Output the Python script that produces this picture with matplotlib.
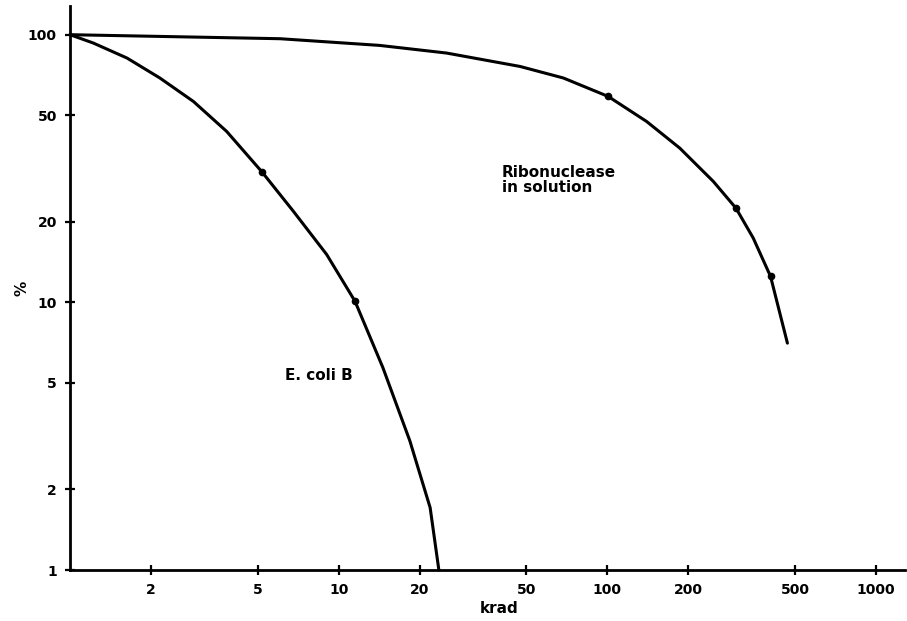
import matplotlib
matplotlib.use("Agg")
import matplotlib.pyplot as plt
from matplotlib.ticker import FixedLocator, FixedFormatter, NullLocator

# curve traces (dose in krad, survival in %)
ecoli_dose = [1.0, 1.22, 1.63, 2.16, 2.88, 3.83, 5.17, 6.78, 9.02, 11.5, 14.6, 18.4, 21.9, 23.6]
ecoli_surv = [100, 93.1, 81.8, 68.9, 56.3, 43.5, 30.8, 21.9, 15.1, 10.1, 5.71, 3.04, 1.71, 1.0]
ecoli_pts_dose = [5.17, 11.5]
ecoli_pts_surv = [30.8, 10.1]

rnase_dose = [1.0, 6.05, 14.2, 25.2, 47.3, 68.6, 100.7, 140, 186, 248, 301, 349, 405, 468]
rnase_surv = [100, 96.6, 91.2, 85.4, 76.1, 68.9, 58.8, 47.4, 37.7, 28.3, 22.5, 17.4, 12.5, 7.04]
rnase_pts_dose = [100.7, 301, 405]
rnase_pts_surv = [58.8, 22.5, 12.5]

xticks = [2, 5, 10, 20, 50, 100, 200, 500, 1000]
yticks = [1, 2, 5, 10, 20, 50, 100]

plt.rcParams['font.family'] = 'DejaVu Sans'
plt.rcParams['font.weight'] = 'bold'

fig = plt.figure(figsize=(9.07, 6.21), dpi=100)
ax = fig.add_axes([70/907, 51/621, 835/907, 564/621])

ax.set_xscale('log')
ax.set_yscale('log')

ax.plot(ecoli_dose, ecoli_surv, color='black', lw=2.2, solid_capstyle='round',
        solid_joinstyle='round', clip_on=False)
ax.plot(rnase_dose, rnase_surv, color='black', lw=2.2, solid_capstyle='round',
        solid_joinstyle='round', clip_on=False)
ax.plot(ecoli_pts_dose, ecoli_pts_surv, 'o', color='black', ms=4.5)
ax.plot(rnase_pts_dose, rnase_pts_surv, 'o', color='black', ms=4.5)

ax.set_xlim(1, 1282)
ax.set_ylim(1, 128)

ax.xaxis.set_major_locator(FixedLocator(xticks))
ax.xaxis.set_major_formatter(FixedFormatter([str(t) for t in xticks]))
ax.yaxis.set_major_locator(FixedLocator(yticks))
ax.yaxis.set_major_formatter(FixedFormatter([str(t) for t in yticks]))
ax.xaxis.set_minor_locator(NullLocator())
ax.yaxis.set_minor_locator(NullLocator())

ax.tick_params(direction='inout', length=7, width=1.6, labelsize=10, pad=6)
for lab in ax.get_xticklabels() + ax.get_yticklabels():
    lab.set_fontweight('bold')

for s in ['top', 'right']:
    ax.spines[s].set_visible(False)
for s in ['left', 'bottom']:
    ax.spines[s].set_linewidth(2)

ax.text(6.32, 5.31, 'E. coli B', fontsize=11, fontweight='bold', ha='left', va='center')
ax.text(40.5, 32.5, 'Ribonuclease\nin solution', fontsize=11, fontweight='bold',
        ha='left', va='top', linespacing=0.95)

ax.set_xlabel('krad', fontsize=11, fontweight='bold')
ax.xaxis.set_label_coords(0.514, -0.055)
ax.set_ylabel('%', fontsize=11, fontweight='bold')
ax.yaxis.set_label_coords(-0.048, 0.5)

fig.savefig('out.png', dpi=100)
